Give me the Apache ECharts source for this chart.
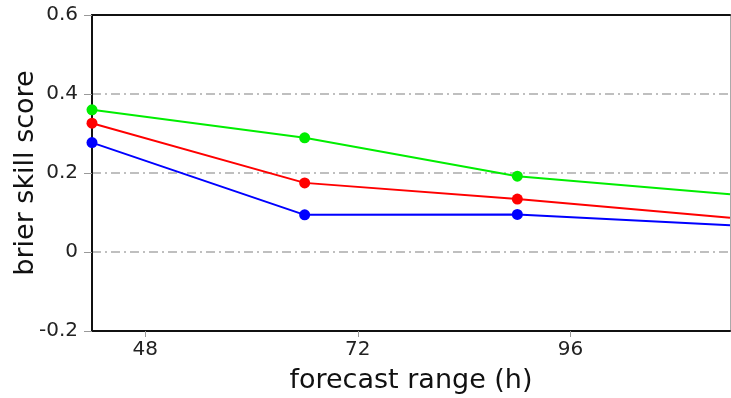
<!DOCTYPE html>
<html>
<head>
<meta charset="utf-8">
<script src="https://cdn.jsdelivr.net/npm/echarts@6/dist/echarts.min.js"></script>
<style>
  html, body { margin: 0; padding: 0; background: #fff; }
  #chart { width: 731px; height: 398px; }
</style>
</head>
<body>
<div id="chart"></div>
<script>
const forecastHours = [42, 66, 90, 114];
const greenScores = [0.360, 0.289, 0.192, 0.146];
const redScores = [0.326, 0.175, 0.134, 0.087];
const blueScores = [0.277, 0.094, 0.095, 0.068];
const xTicks = [48, 72, 96];

const chart = echarts.init(document.getElementById('chart'));
const font = 'DejaVu Sans, sans-serif';

// last point sits on the right border, the reference shows no marker there
const toPoints = vals => vals.map((v, i) => ({
  value: [forecastHours[i], v],
  symbol: i === vals.length - 1 ? 'none' : 'circle'
}));

const makeSeries = (vals, color) => ({
  type: 'line',
  data: toPoints(vals),
  symbolSize: 11,
  lineStyle: { color, width: 2 },
  itemStyle: { color },
  clip: false,
  z: 3
});

chart.setOption({
  animation: false,
  grid: { left: 92, right: 1, top: 15, bottom: 67, containLabel: false, outerBoundsMode: 'none' },
  xAxis: [{
    type: 'value', min: 42, max: 114,
    name: 'forecast range (h)', nameLocation: 'middle', nameGap: 36,
    nameTextStyle: { fontSize: 27, color: '#111', fontFamily: font },
    axisLine: { onZero: false, lineStyle: { color: '#111', width: 2 } },
    axisTick: { show: true, length: 6, lineStyle: { color: '#999' }, customValues: xTicks },
    axisLabel: { fontSize: 20, color: '#222', fontFamily: font, margin: 9, customValues: xTicks },
    splitLine: { show: false }
  }, {
    type: 'value', min: 42, max: 114, position: 'top',
    axisLine: { show: true, onZero: false, lineStyle: { color: '#111', width: 2 } },
    axisTick: { show: false }, axisLabel: { show: false }, splitLine: { show: false }
  }],
  yAxis: [{
    type: 'value', min: -0.2, max: 0.6, interval: 0.2,
    name: 'brier skill score', nameLocation: 'middle', nameGap: 53, nameMoveOverlap: false,
    nameTextStyle: { fontSize: 27, color: '#111', fontFamily: font },
    axisLine: { show: true, onZero: false, lineStyle: { color: '#111', width: 2 } },
    axisTick: { show: true, length: 8, lineStyle: { color: '#999' } },
    axisLabel: { fontSize: 20, color: '#222', fontFamily: font, margin: 14,
      formatter: v => (Math.round(v * 10) / 10).toString() },
    splitLine: {
      show: true,
      lineStyle: { color: '#aaa', width: 1.5, type: [9, 4, 2, 4] }
    }
  }, {
    type: 'value', min: -0.2, max: 0.6, position: 'right',
    axisLine: { show: true, onZero: false, lineStyle: { color: '#aaa', width: 1 } },
    axisTick: { show: false }, axisLabel: { show: false }, splitLine: { show: false }
  }],
  series: [
    makeSeries(greenScores, '#00ee00'),
    makeSeries(redScores, '#ff0000'),
    makeSeries(blueScores, '#0000ff')
  ]
});
</script>
</body>
</html>
